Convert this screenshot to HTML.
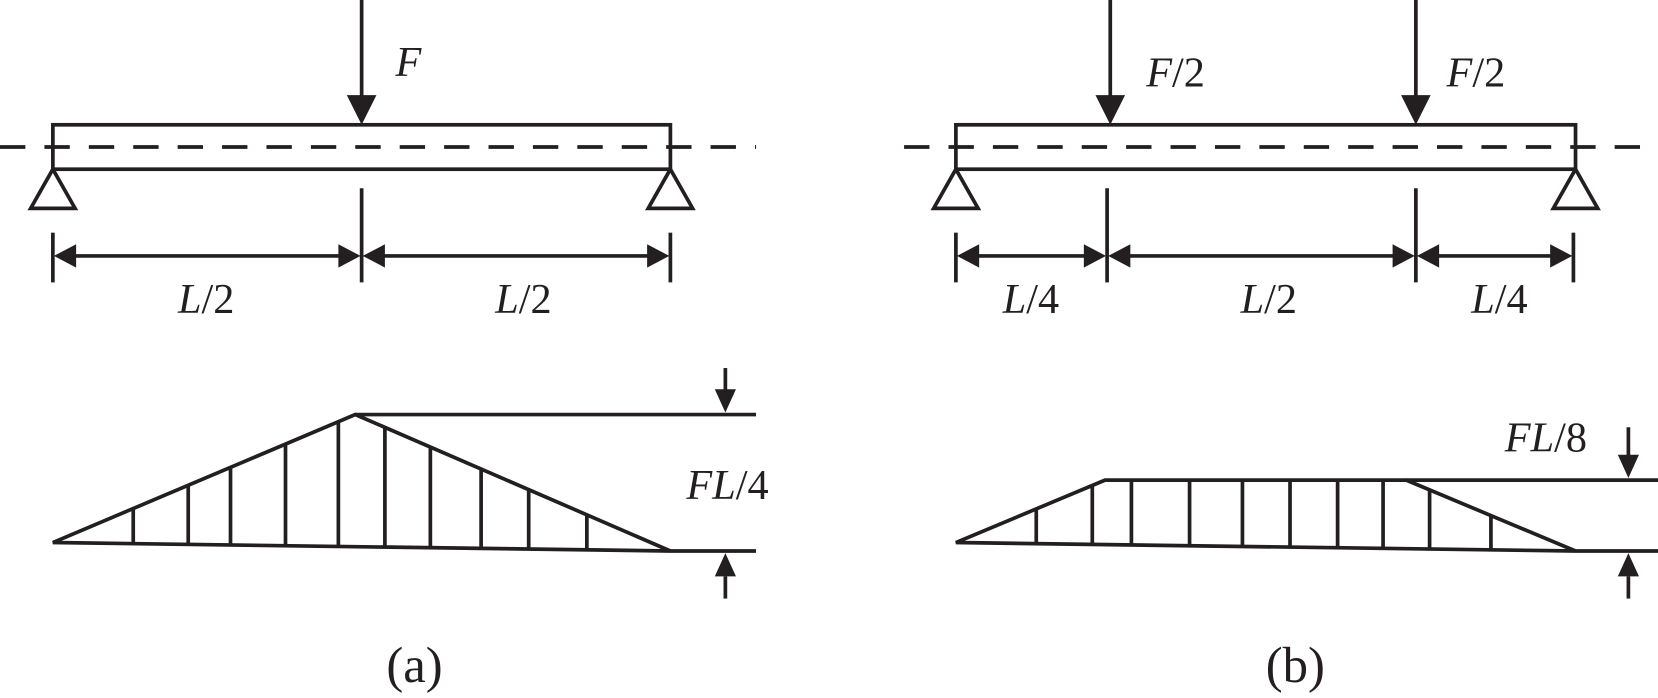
<!DOCTYPE html>
<html><head><meta charset="utf-8"><style>
html,body{margin:0;padding:0;background:#fff;}
svg{display:block;}
text{font-family:"Liberation Serif",serif;fill:#231f20;}
.i{font-style:italic;}
</style></head><body>
<svg width="1658" height="698" viewBox="0 0 1568 660" preserveAspectRatio="none" xmlns="http://www.w3.org/2000/svg">
<g stroke="#231f20" stroke-width="3.5" fill="none">
<line x1="342" y1="0" x2="342" y2="92"/>
<rect x="50" y="118" width="584" height="42"/>
<line x1="0" y1="139" x2="715" y2="139" stroke-dasharray="24,18"/>
<path d="M50,160 L29,197 L71,197 z"/>
<path d="M634,160 L613,197 L655,197 z"/>
<line x1="50" y1="220" x2="50" y2="267"/>
<line x1="342" y1="178" x2="342" y2="267"/>
<line x1="634" y1="220" x2="634" y2="267"/>
<line x1="70" y1="242" x2="322" y2="242"/>
<line x1="362" y1="242" x2="614" y2="242"/>
</g>
<g fill="#231f20">
<path d="M328,90 L356,90 L342,118 z"/>
<path d="M51,242 L72,231 L72,253 z"/>
<path d="M341,242 L320,231 L320,253 z"/>
<path d="M343,242 L364,231 L364,253 z"/>
<path d="M633,242 L612,231 L612,253 z"/>
</g>
<g stroke="#231f20" stroke-width="3.5" fill="none">
<path d="M50,513 L336,392 L634,521 Z"/>
<line x1="336" y1="392" x2="715" y2="392"/>
<line x1="634" y1="521" x2="715" y2="521"/>
<line x1="126" y1="481" x2="126" y2="514"/>
<line x1="178" y1="459" x2="178" y2="515"/>
<line x1="218" y1="442" x2="218" y2="516"/>
<line x1="270" y1="420" x2="270" y2="516"/>
<line x1="320" y1="399" x2="320" y2="517"/>
<line x1="364" y1="404" x2="364" y2="518"/>
<line x1="407" y1="422" x2="407" y2="518"/>
<line x1="455" y1="443" x2="455" y2="519"/>
<line x1="500" y1="463" x2="500" y2="519"/>
<line x1="555" y1="487" x2="555" y2="520"/>
<line x1="686" y1="348" x2="686" y2="372"/>
<line x1="686" y1="545" x2="686" y2="566"/>
</g>
<g fill="#231f20">
<path d="M676,368 L696,368 L686,390 z"/>
<path d="M676,545 L696,545 L686,523 z"/>
</g>
<g stroke="#231f20" stroke-width="3.5" fill="none">
<line x1="1050" y1="0" x2="1050" y2="92"/>
<line x1="1339" y1="0" x2="1339" y2="92"/>
<rect x="904" y="118" width="586" height="42"/>
<line x1="855" y1="139" x2="1568" y2="139" stroke-dasharray="24,18"/>
<path d="M904,160 L883,197 L925,197 z"/>
<path d="M1490,160 L1469,197 L1511,197 z"/>
<line x1="904" y1="220" x2="904" y2="267"/>
<line x1="1047" y1="178" x2="1047" y2="267"/>
<line x1="1339" y1="178" x2="1339" y2="267"/>
<line x1="1488" y1="220" x2="1488" y2="267"/>
<line x1="924" y1="242" x2="1027" y2="242"/>
<line x1="1067" y1="242" x2="1319" y2="242"/>
<line x1="1359" y1="242" x2="1468" y2="242"/>
</g>
<g fill="#231f20">
<path d="M1036,90 L1064,90 L1050,118 z"/>
<path d="M1325,90 L1353,90 L1339,118 z"/>
<path d="M905,242 L926,231 L926,253 z"/>
<path d="M1046,242 L1025,231 L1025,253 z"/>
<path d="M1048,242 L1069,231 L1069,253 z"/>
<path d="M1338,242 L1317,231 L1317,253 z"/>
<path d="M1340,242 L1361,231 L1361,253 z"/>
<path d="M1487,242 L1466,231 L1466,253 z"/>
</g>
<g stroke="#231f20" stroke-width="3.5" fill="none">
<path d="M904,513 L1045,454 L1330,454 L1490,521 Z"/>
<line x1="1330" y1="454" x2="1568" y2="454"/>
<line x1="1490" y1="521" x2="1568" y2="521"/>
<line x1="980" y1="482" x2="980" y2="514"/>
<line x1="1033" y1="459" x2="1033" y2="515"/>
<line x1="1070" y1="454" x2="1070" y2="515"/>
<line x1="1125" y1="454" x2="1125" y2="516"/>
<line x1="1175" y1="454" x2="1175" y2="517"/>
<line x1="1220" y1="454" x2="1220" y2="517"/>
<line x1="1265" y1="454" x2="1265" y2="518"/>
<line x1="1308" y1="454" x2="1308" y2="518"/>
<line x1="1352" y1="463" x2="1352" y2="519"/>
<line x1="1410" y1="487" x2="1410" y2="520"/>
<line x1="1540" y1="404" x2="1540" y2="432"/>
<line x1="1540" y1="545" x2="1540" y2="566"/>
</g>
<g fill="#231f20">
<path d="M1530,430 L1550,430 L1540,452 z"/>
<path d="M1530,545 L1550,545 L1540,523 z"/>
</g>
<g font-size="40">
<text class="i" x="374" y="72">F</text>
<text x="195" y="296" text-anchor="middle"><tspan class="i">L</tspan>/2</text>
<text x="495" y="296" text-anchor="middle"><tspan class="i">L</tspan>/2</text>
<text x="688" y="472" text-anchor="middle"><tspan class="i">FL</tspan>/4</text>
<text x="1084" y="82"><tspan class="i">F</tspan>/2</text>
<text x="1368" y="82"><tspan class="i">F</tspan>/2</text>
<text x="975" y="296" text-anchor="middle"><tspan class="i">L</tspan>/4</text>
<text x="1200" y="296" text-anchor="middle"><tspan class="i">L</tspan>/2</text>
<text x="1418" y="296" text-anchor="middle"><tspan class="i">L</tspan>/4</text>
<text x="1462" y="427" text-anchor="middle"><tspan class="i">FL</tspan>/8</text>
</g>
<g font-size="48">
<text x="392" y="645" text-anchor="middle">(a)</text>
<text x="1225" y="645" text-anchor="middle">(b)</text>
</g>
</svg>
</body></html>
